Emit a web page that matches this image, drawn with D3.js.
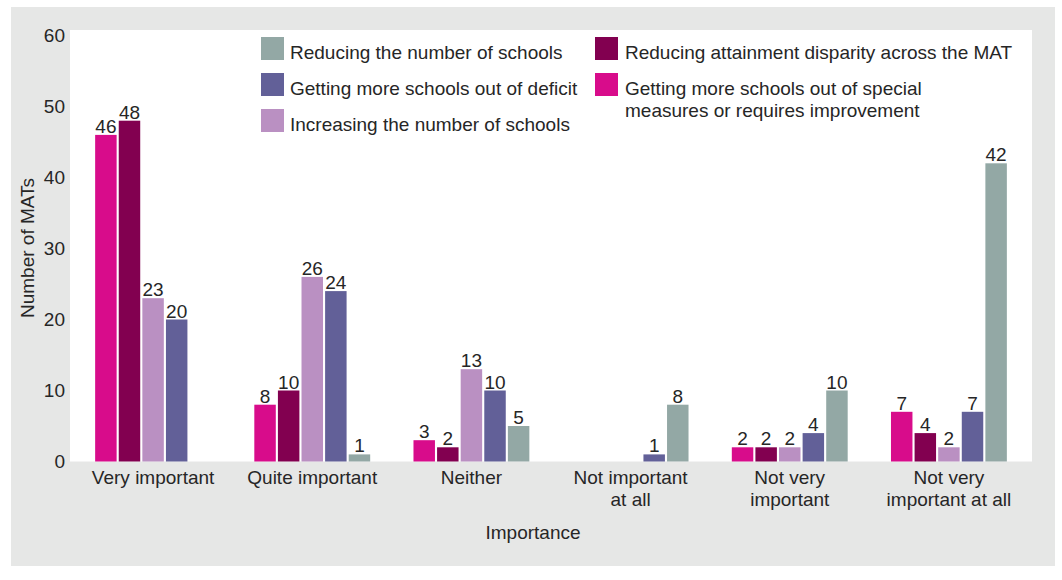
<!DOCTYPE html>
<html>
<head>
<meta charset="utf-8">
<script src="https://cdn.jsdelivr.net/npm/d3@7"></script>
<style>
  html, body { margin: 0; padding: 0; background: #ffffff; }
  svg { display: block; font-family: "Liberation Sans", Arial, Helvetica, sans-serif; }
</style>
</head>
<body>
<svg id="chart" width="1062" height="580"></svg>
<script>
// Importance ratings given by MATs to each priority
const categories = ["Very important", "Quite important", "Neither", "Not important\nat all", "Not very\nimportant", "Not very\nimportant at all"];

const seriesNames = [
  "Getting more schools out of special measures or requires improvement",
  "Reducing attainment disparity across the MAT",
  "Increasing the number of schools",
  "Getting more schools out of deficit",
  "Reducing the number of schools"
];
const seriesColors = ["#d80c8b", "#820050", "#ba90c2", "#626098", "#93a8a5"];

// Counts per category (null = no bar drawn)
const specialMeasures = [46, 8, 3, null, 2, 7];
const attainmentGap   = [48, 10, 2, null, 2, 4];
const increasing      = [23, 26, 13, null, 2, 2];
const deficit         = [20, 24, 10, 1, 4, 7];
const reducing        = [null, 1, 5, 8, 10, 42];

const yTicks = [0, 10, 20, 30, 40, 50, 60];

const seriesValues = [specialMeasures, attainmentGap, increasing, deficit, reducing];

// Legend layout: two columns
const legendLeft = [
  { label: ["Reducing the number of schools"], color: seriesColors[4] },
  { label: ["Getting more schools out of deficit"], color: seriesColors[3] },
  { label: ["Increasing the number of schools"], color: seriesColors[2] }
];
const legendRight = [
  { label: ["Reducing attainment disparity across the MAT"], color: seriesColors[1] },
  { label: ["Getting more schools out of special", "measures or requires improvement"], color: seriesColors[0] }
];

const svg = d3.select("#chart");
const textColor = "#262626";
const fontSize = 19;

// Panel background
svg.append("rect").attr("x", 11).attr("y", 7).attr("width", 1044).attr("height", 559).attr("fill", "#e6e7e6");

const plot = { left: 70, top: 30, right: 1032, bottom: 461.5 };
svg.append("rect")
  .attr("x", plot.left).attr("y", plot.top)
  .attr("width", plot.right - plot.left).attr("height", plot.bottom - plot.top)
  .attr("fill", "#ffffff");

const y = d3.scaleLinear().domain([0, 60]).range([plot.bottom, 35.5]);

const x0 = d3.scaleBand().domain(d3.range(categories.length))
  .range([plot.left, plot.right]).paddingOuter(0.022).paddingInner(0);
const groupW = 118;
const x1 = d3.scaleBand().domain(d3.range(seriesNames.length))
  .range([(x0.bandwidth() - groupW) / 2, (x0.bandwidth() + groupW) / 2])
  .paddingInner(0.09).paddingOuter(0.045);

// Y axis tick labels
const yAxis = d3.axisLeft(y).tickValues(yTicks).tickSize(0).tickPadding(5);
const yg = svg.append("g").attr("transform", `translate(${plot.left},0)`).call(yAxis);
yg.select(".domain").remove();
yg.selectAll("text").attr("font-size", fontSize).attr("fill", textColor)
  .attr("font-family", "Liberation Sans, Arial, sans-serif");

// Y axis title
svg.append("text")
  .attr("transform", "translate(34,248) rotate(-90)")
  .attr("text-anchor", "middle")
  .attr("font-size", fontSize).attr("fill", textColor)
  .text("Number of MATs");

// Bars and value labels
const groups = svg.append("g").selectAll("g")
  .data(categories.map((c, i) => i))
  .join("g")
  .attr("transform", i => `translate(${x0(i)},0)`);

groups.each(function(ci) {
  const g = d3.select(this);
  const items = seriesValues.map((vals, si) => ({ si, v: vals[ci] })).filter(d => d.v !== null);
  g.selectAll("rect").data(items).join("rect")
    .attr("x", d => x1(d.si))
    .attr("width", x1.bandwidth())
    .attr("y", d => y(d.v))
    .attr("height", d => y(0) - y(d.v))
    .attr("fill", d => seriesColors[d.si]);
  g.selectAll("text.val").data(items).join("text")
    .attr("class", "val")
    .attr("x", d => x1(d.si) + x1.bandwidth() / 2)
    .attr("y", d => y(d.v) - 2)
    .attr("text-anchor", "middle")
    .attr("font-size", fontSize).attr("fill", textColor)
    .text(d => d.v);
});

// Category labels
const xAxis = d3.axisBottom(x0).tickSize(0).tickFormat("");
const xg = svg.append("g").attr("transform", `translate(0,${plot.bottom})`).call(xAxis);
xg.select(".domain").remove();
xg.selectAll(".tick").each(function(i) {
  const lines = categories[i].split("\n");
  const t = d3.select(this).append("text")
    .attr("text-anchor", "middle")
    .attr("font-size", fontSize).attr("fill", textColor)
    .attr("font-family", "Liberation Sans, Arial, sans-serif");
  lines.forEach((ln, k) => {
    t.append("tspan").attr("x", 0).attr("y", 22.5 + k * 21.5).text(ln);
  });
});

// X axis title
svg.append("text")
  .attr("x", 533).attr("y", 539)
  .attr("text-anchor", "middle")
  .attr("font-size", fontSize).attr("fill", textColor)
  .text("Importance");

// Legend
function drawLegend(items, sx, tx) {
  items.forEach((it, r) => {
    const top = 37 + r * 36;
    svg.append("rect").attr("x", sx).attr("y", top).attr("width", 23).attr("height", 23).attr("fill", it.color);
    const t = svg.append("text").attr("font-size", fontSize).attr("fill", textColor);
    it.label.forEach((ln, k) => {
      t.append("tspan").attr("x", tx).attr("y", top + 22 + k * 22).text(ln);
    });
  });
}
drawLegend(legendLeft, 261, 290);
drawLegend(legendRight, 595, 625);
</script>
</body>
</html>
